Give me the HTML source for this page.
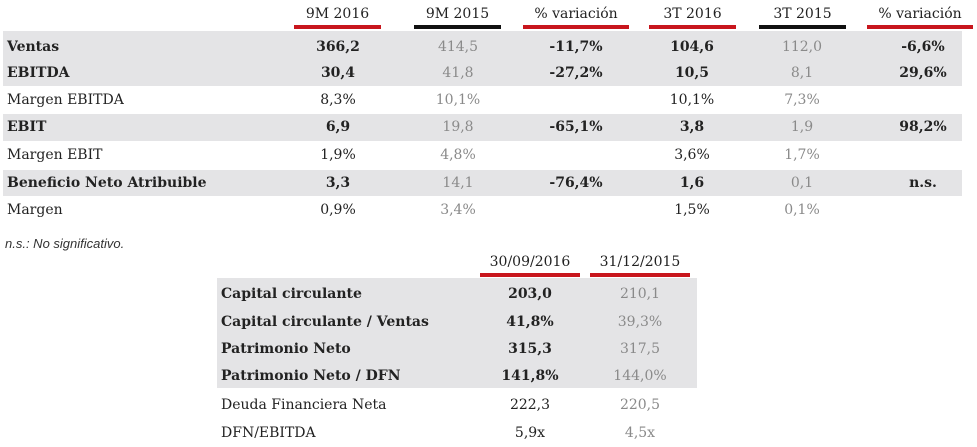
<!DOCTYPE html>
<html><head><meta charset="utf-8"><style>
body{margin:0;width:977px;height:447px;background:#fff;position:relative;overflow:hidden;font-family:"DejaVu Serif",serif;color:#222;}
.a{position:absolute;white-space:nowrap;}
.band{position:absolute;background:#e4e4e6;}
.h{position:absolute;font-size:14px;text-align:center;line-height:18px;white-space:nowrap;}
.ul{position:absolute;height:4px;}
.r{background:#c8161d}.k{background:#111}
.lab{position:absolute;font-size:14px;line-height:18px;white-space:nowrap;}
.v{position:absolute;font-size:14px;line-height:18px;text-align:center;width:100px;}
.b{font-weight:bold}
.g{color:#8a8a8a}
</style></head><body>
<div class="band" style="left:3px;top:31px;width:959px;height:55px"></div>
<div class="band" style="left:3px;top:114px;width:959px;height:27px"></div>
<div class="band" style="left:3px;top:170px;width:959px;height:26px"></div>

<div class="h" style="left:294px;top:5px;width:87px">9M 2016</div><div class="ul r" style="left:294px;top:25px;width:87px"></div>
<div class="h" style="left:414px;top:5px;width:87px">9M 2015</div><div class="ul k" style="left:414px;top:25px;width:87px"></div>
<div class="h" style="left:523px;top:5px;width:106px">% variación</div><div class="ul r" style="left:523px;top:25px;width:106px"></div>
<div class="h" style="left:649px;top:5px;width:87px">3T 2016</div><div class="ul r" style="left:649px;top:25px;width:87px"></div>
<div class="h" style="left:759px;top:5px;width:87px">3T 2015</div><div class="ul k" style="left:759px;top:25px;width:87px"></div>
<div class="h" style="left:867px;top:5px;width:106px">% variación</div><div class="ul r" style="left:867px;top:25px;width:106px"></div>

<div class="lab b" style="left:7px;top:38px">Ventas</div>
<div class="lab b" style="left:7px;top:64px">EBITDA</div>
<div class="lab" style="left:7px;top:91px">Margen EBITDA</div>
<div class="lab b" style="left:7px;top:118px">EBIT</div>
<div class="lab" style="left:7px;top:146px">Margen EBIT</div>
<div class="lab b" style="left:7px;top:174px">Beneficio Neto Atribuible</div>
<div class="lab" style="left:7px;top:201px">Margen</div>

<div class="v b" style="left:288px;top:38px">366,2</div><div class="v g" style="left:408px;top:38px">414,5</div><div class="v b" style="left:526px;top:38px">-11,7%</div><div class="v b" style="left:642px;top:38px">104,6</div><div class="v g" style="left:752px;top:38px">112,0</div><div class="v b" style="left:873px;top:38px">-6,6%</div>
<div class="v b" style="left:288px;top:64px">30,4</div><div class="v g" style="left:408px;top:64px">41,8</div><div class="v b" style="left:526px;top:64px">-27,2%</div><div class="v b" style="left:642px;top:64px">10,5</div><div class="v g" style="left:752px;top:64px">8,1</div><div class="v b" style="left:873px;top:64px">29,6%</div>
<div class="v" style="left:288px;top:91px">8,3%</div><div class="v g" style="left:408px;top:91px">10,1%</div><div class="v" style="left:642px;top:91px">10,1%</div><div class="v g" style="left:752px;top:91px">7,3%</div>
<div class="v b" style="left:288px;top:118px">6,9</div><div class="v g" style="left:408px;top:118px">19,8</div><div class="v b" style="left:526px;top:118px">-65,1%</div><div class="v b" style="left:642px;top:118px">3,8</div><div class="v g" style="left:752px;top:118px">1,9</div><div class="v b" style="left:873px;top:118px">98,2%</div>
<div class="v" style="left:288px;top:146px">1,9%</div><div class="v g" style="left:408px;top:146px">4,8%</div><div class="v" style="left:642px;top:146px">3,6%</div><div class="v g" style="left:752px;top:146px">1,7%</div>
<div class="v b" style="left:288px;top:174px">3,3</div><div class="v g" style="left:408px;top:174px">14,1</div><div class="v b" style="left:526px;top:174px">-76,4%</div><div class="v b" style="left:642px;top:174px">1,6</div><div class="v g" style="left:752px;top:174px">0,1</div><div class="v b" style="left:873px;top:174px">n.s.</div>
<div class="v" style="left:288px;top:201px">0,9%</div><div class="v g" style="left:408px;top:201px">3,4%</div><div class="v" style="left:642px;top:201px">1,5%</div><div class="v g" style="left:752px;top:201px">0,1%</div>

<div class="a" style="left:5px;top:236px;font-family:'Liberation Sans',sans-serif;font-style:italic;font-size:13px;color:#333">n.s.: No significativo.</div>

<div class="band" style="left:217px;top:278px;width:480px;height:110px"></div>
<div class="h" style="left:480px;top:253px;width:100px">30/09/2016</div><div class="ul r" style="left:480px;top:273px;width:100px"></div>
<div class="h" style="left:590px;top:253px;width:100px">31/12/2015</div><div class="ul r" style="left:590px;top:273px;width:100px"></div>

<div class="lab b" style="left:221px;top:285px">Capital circulante</div>
<div class="lab b" style="left:221px;top:313px">Capital circulante / Ventas</div>
<div class="lab b" style="left:221px;top:340px">Patrimonio Neto</div>
<div class="lab b" style="left:221px;top:367px">Patrimonio Neto / DFN</div>
<div class="lab" style="left:221px;top:396px">Deuda Financiera Neta</div>
<div class="lab" style="left:221px;top:424px">DFN/EBITDA</div>

<div class="v b" style="left:480px;top:285px">203,0</div><div class="v g" style="left:590px;top:285px">210,1</div>
<div class="v b" style="left:480px;top:313px">41,8%</div><div class="v g" style="left:590px;top:313px">39,3%</div>
<div class="v b" style="left:480px;top:340px">315,3</div><div class="v g" style="left:590px;top:340px">317,5</div>
<div class="v b" style="left:480px;top:367px">141,8%</div><div class="v g" style="left:590px;top:367px">144,0%</div>
<div class="v" style="left:480px;top:396px">222,3</div><div class="v g" style="left:590px;top:396px">220,5</div>
<div class="v" style="left:480px;top:424px">5,9x</div><div class="v g" style="left:590px;top:424px">4,5x</div>
</body></html>
